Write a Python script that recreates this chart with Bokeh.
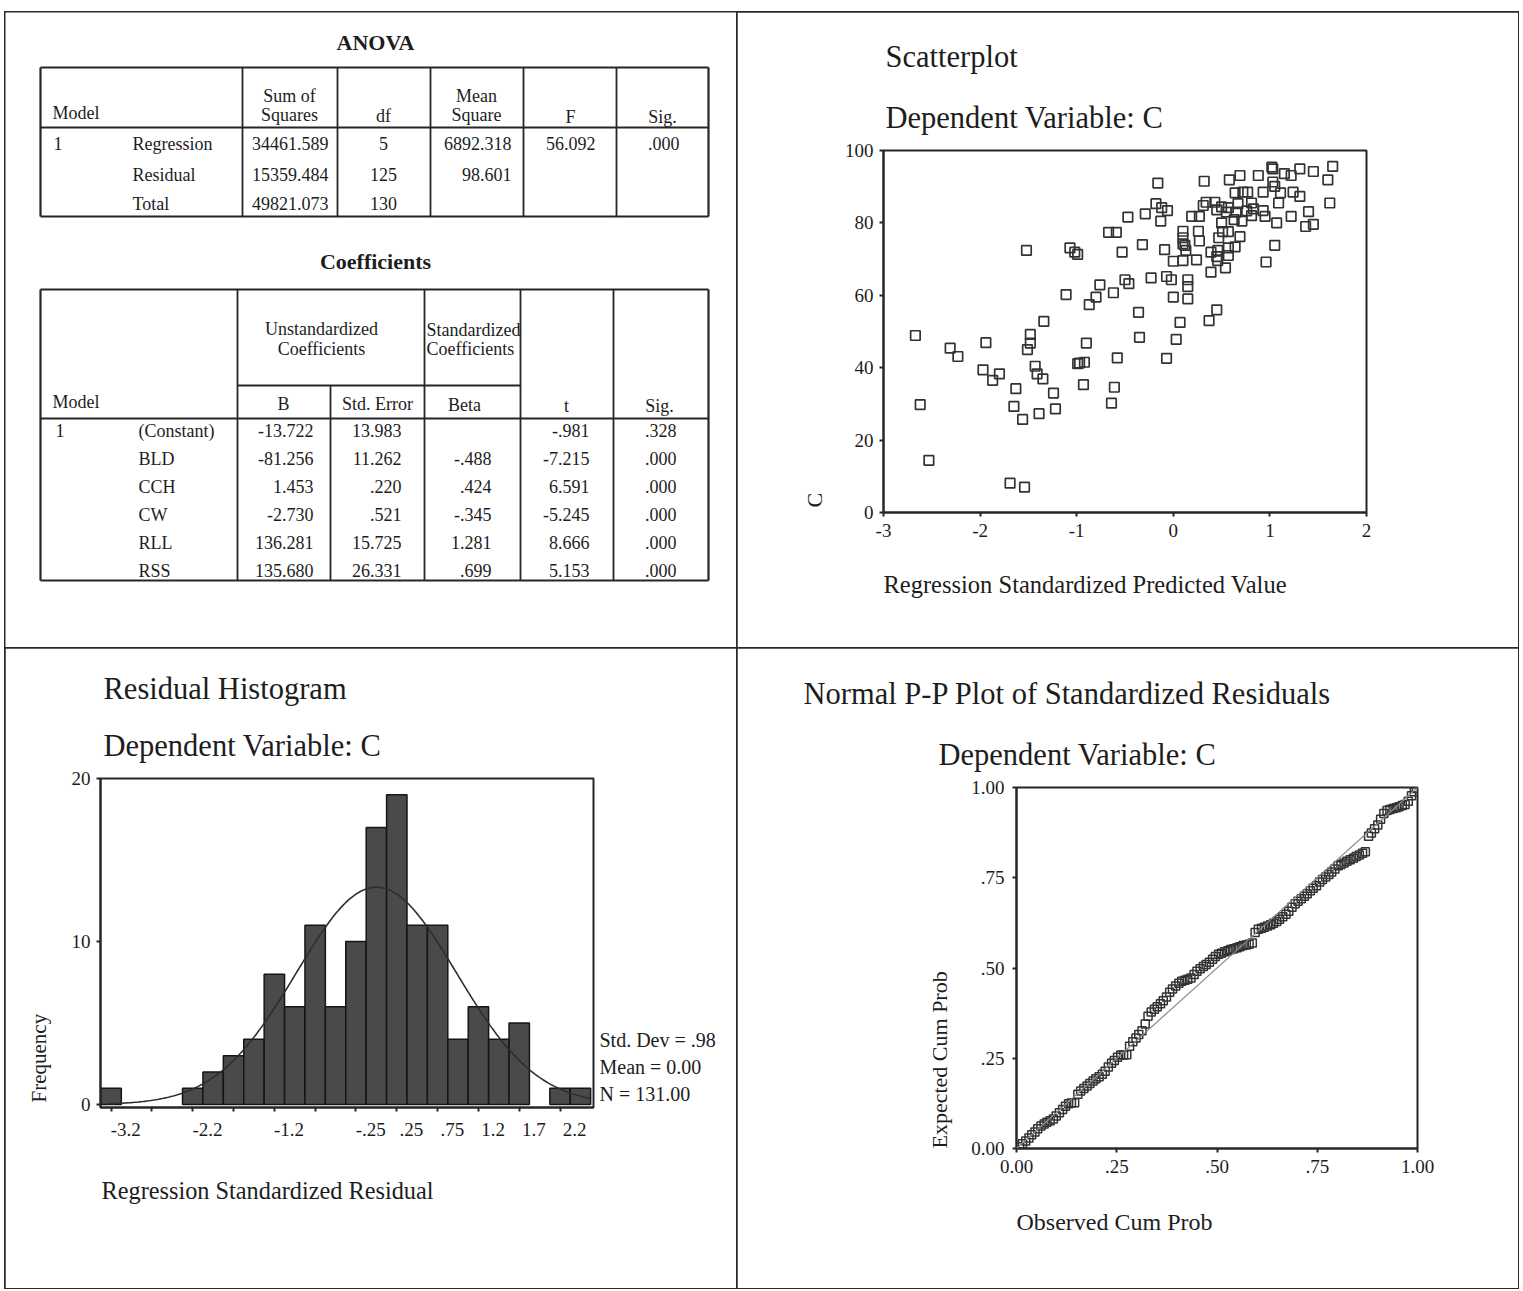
import numpy as np
from bokeh.plotting import figure
from bokeh.models import Range1d, FixedTicker, LinearAxis, Title, Slope
from bokeh.layouts import row, column
from bokeh.embed import file_html
from bokeh.resources import INLINE
from bokeh.core.properties import value

FONT = "Liberation Serif"
INK = "#1d1d1d"
LINE = "#262626"
MARK = "#333333"

# ---------------- data ----------------
anova_models = ["Regression", "Residual", "Total"]
anova_ss = ["34461.589", "15359.484", "49821.073"]
anova_df = ["5", "125", "130"]
anova_ms = ["6892.318", "98.601", ""]
anova_f = ["56.092", "", ""]
anova_sig = [".000", "", ""]

coef_terms = ["(Constant)", "BLD", "CCH", "CW", "RLL", "RSS"]
coef_b = ["-13.722", "-81.256", "1.453", "-2.730", "136.281", "135.680"]
coef_se = ["13.983", "11.262", ".220", ".521", "15.725", "26.331"]
coef_beta = ["", "-.488", ".424", "-.345", "1.281", ".699"]
coef_t = ["-.981", "-7.215", "6.591", "-5.245", "8.666", "5.153"]
coef_sig = [".328", ".000", ".000", ".000", ".000", ".000"]

scatter_x = [-2.67, -2.62, -2.53, -2.31, -2.23, -1.97, -1.94, -1.87, -1.80, -1.69,
             -1.65, -1.63, -1.56, -1.54, -1.52, -1.51, -1.48, -1.48, -1.43, -1.41,
             -1.39, -1.35, -1.34, -1.24, -1.22, -1.11, -1.07, -1.02, -0.99, -0.99,
             -0.97, -0.92, -0.93, -0.90, -0.87, -0.80, -0.76, -0.67, -0.59, -0.62,
             -0.64, -0.61, -0.58, -0.53, -0.50, -0.46, -0.47, -0.35, -0.36,
             -0.32, -0.29, -0.23, -0.18, -0.16, -0.13, -0.12, -0.09, -0.07, -0.07,
             -0.06, -0.02, 0.00, 0.00, 0.03, 0.07, 0.10, 0.10, 0.10, 0.12,
             0.13, 0.10, 0.15, 0.15, 0.15, 0.19, 0.27, 0.24, 0.26, 0.27,
             0.31, 0.34, 0.43, 0.32, 0.37, 0.39, 0.39, 0.46, 0.45, 0.45,
             0.46, 0.45, 0.47, 0.50, 0.50, 0.51, 0.54, 0.55, 0.57, 0.57,
             0.57, 0.57, 0.58, 0.63, 0.64, 0.64, 0.65, 0.67, 0.69, 0.69,
             0.71, 0.72, 0.76, 0.77, 0.81, 0.81, 0.83, 0.88, 0.93, 0.93,
             0.95, 0.96, 1.02, 1.03, 1.03, 1.05, 1.05, 1.07, 1.09, 1.11,
             1.15, 1.22, 1.22, 1.24, 1.31, 1.31, 1.37, 1.40, 1.45, 1.45,
             1.60, 1.62, 1.65]
scatter_y = [48.9, 29.8, 14.4, 45.4, 43.1, 39.4, 46.9, 36.5, 38.3, 8.1,
             29.3, 34.2, 25.7, 7.0, 72.4, 45.0, 46.8, 49.2, 40.4, 38.3,
             27.3, 36.9, 52.8, 33.0, 28.6, 60.2, 73.1, 71.9, 71.3, 41.1,
             41.3, 41.5, 35.3, 46.8, 57.4, 59.5, 62.9, 77.4, 77.4, 60.7,
             30.2, 34.6, 42.7, 71.9, 64.3, 63.2, 81.6, 48.4, 55.3,
             74.0, 82.5, 64.8, 85.3, 91.0, 80.5, 84.2, 72.6, 65.2, 42.6,
             83.4, 64.3, 59.5, 69.4, 47.8, 52.5, 77.7, 75.9, 74.2, 73.8,
             72.4, 69.6, 64.3, 62.4, 59.0, 81.8, 81.8, 69.8, 77.7, 75.0,
             84.8, 85.7, 85.7, 91.5, 53.0, 66.4, 71.9, 72.4, 83.6, 70.7,
             69.6, 56.0, 75.9, 84.4, 80.0, 77.6, 67.6, 83.0, 84.2, 77.6,
             73.1, 71.0, 91.9, 80.9, 73.4, 88.3, 83.0, 85.3, 93.1, 76.2,
             80.5, 88.5, 83.3, 88.5, 85.5, 82.0, 83.9, 93.1, 88.5, 83.4,
             81.8, 69.2, 95.4, 94.9, 91.3, 90.1, 73.8, 80.0, 85.5, 88.3,
             93.6, 93.1, 81.8, 88.5, 87.3, 94.9, 79.0, 83.1, 79.6, 94.2,
             91.9, 85.5, 95.6]
scatter_xticks = [-3, -2, -1, 0, 1, 2]
scatter_yticks = [0, 20, 40, 60, 80, 100]

hist_centers = [-3.25, -3.0, -2.75, -2.5, -2.25, -2.0, -1.75, -1.5, -1.25, -1.0, -0.75, -0.5,
                -0.25, 0.0, 0.25, 0.5, 0.75, 1.0, 1.25, 1.5, 1.75, 2.0, 2.25, 2.5]
hist_counts = [1, 0, 0, 0, 1, 2, 3, 4, 8, 6, 11, 6, 10, 17, 19, 11, 11, 4, 6, 4, 5, 0, 1, 1]
hist_bin_width = 0.25
hist_mean, hist_sd, hist_n = 0.0, 0.98, 131
hist_stats = ["Std. Dev = .98", "Mean = 0.00", "N = 131.00"]
hist_tick_marks = [-3.25, -2.75, -2.25, -1.75, -1.25, -0.75, -0.25, 0.25, 0.75, 1.25, 1.75, 2.25]
hist_tick_vals = [-3.25, -2.25, -1.25, -0.25, 0.25, 0.75, 1.25, 1.75, 2.25]
hist_tick_labels = ["-3.2", "-2.2", "-1.2", "-.25", ".25", ".75", "1.2", "1.7", "2.2"]
hist_yticks = [0, 10, 20]

pp_observed = [.008, .015, .023, .031, .038, .046, .053, .061, .069, .076,
               .084, .092, .099, .107, .115, .122, .130, .137, .145, .153,
               .160, .168, .176, .183, .191, .198, .206, .214, .221, .229,
               .237, .244, .252, .260, .267, .275, .282, .290, .298, .305,
               .313, .321, .328, .336, .344, .351, .359, .366, .374, .382,
               .389, .397, .405, .412, .420, .427, .435, .443, .450, .458,
               .466, .473, .481, .489, .496, .504, .511, .519, .527, .534,
               .542, .550, .557, .565, .573, .580, .588, .595, .603, .611,
               .618, .626, .634, .641, .649, .656, .664, .672, .679, .687,
               .695, .702, .710, .718, .725, .733, .740, .748, .756, .763,
               .771, .779, .786, .794, .802, .809, .817, .824, .832, .840,
               .847, .855, .863, .870, .878, .885, .893, .901, .908, .916,
               .924, .931, .939, .947, .954, .962, .969, .977, .985, .992, .997]
pp_expected = [.005, .013, .021, .029, .038, .046, .055, .062, .068, .073,
               .077, .082, .090, .099, .108, .117, .124, .126, .127, .150,
               .159, .166, .173, .180, .187, .193, .199, .206, .214, .226,
               .236, .244, .253, .259, .259, .260, .283, .296, .306, .316,
               .326, .345, .366, .378, .386, .393, .401, .409, .420, .433,
               .442, .450, .458, .463, .466, .469, .472, .482, .491, .498,
               .504, .510, .516, .524, .532, .538, .541, .545, .548, .551,
               .553, .556, .559, .562, .564, .566, .569, .598, .607, .610,
               .613, .616, .620, .624, .629, .635, .642, .649, .657, .668,
               .678, .685, .692, .699, .706, .714, .721, .728, .738, .745,
               .752, .759, .766, .774, .783, .787, .791, .796, .800, .804,
               .809, .813, .818, .822, .865, .874, .886, .896, .912, .928,
               .936, .939, .942, .944, .947, .950, .953, .962, .977, .988, .997]
pp_ticks = [0, 0.25, 0.5, 0.75, 1]
pp_tick_labels = ["0.00", ".25", ".50", ".75", "1.00"]

CSS_BOX = {"outline": "2px solid #2a2a2a", "outline-offset": "-1px"}
TITLE_SIZE = "30.5px"


def txt(fig, xs, ys, texts, align="left", size=18, bold=False):
    keep = [(x, y, t) for x, y, t in zip(xs, ys, texts) if t != ""]
    fig.text(x=[k[0] for k in keep], y=[k[1] for k in keep], text=[k[2] for k in keep],
             text_align=align, text_baseline="middle",
             text_font=value(FONT), text_font_size=value(f"{size}px"),
             text_font_style="bold" if bold else "normal", text_color=INK)


def seg(fig, x0, y0, x1, y1, w=1.8):
    fig.segment(x0=x0, y0=y0, x1=x1, y1=y1, line_color=LINE, line_width=w)


def style_axis(ax, size="19px", standoff=6):
    ax.axis_line_color = LINE
    ax.axis_line_width = 2
    ax.major_tick_in = 0
    ax.major_tick_out = 4
    ax.major_tick_line_width = 2
    ax.major_tick_line_color = LINE
    ax.minor_tick_line_color = None
    ax.major_label_text_font = FONT
    ax.major_label_text_font_size = size
    ax.major_label_text_color = INK
    ax.major_label_standoff = standoff


def add_title(fig, text, place, standoff, offset=0, size=TITLE_SIZE):
    fig.add_layout(Title(text=text, align="left", offset=offset, standoff=standoff,
                         text_font=FONT, text_font_size=size, text_font_style="normal",
                         text_color=INK), place)


def base_fig(**kw):
    f = figure(output_backend="svg", toolbar_location=None, **kw)
    f.background_fill_color = "white"
    f.border_fill_color = "white"
    if "frame_align" in f.properties():
        f.frame_align = False
    return f


# ---------------- top-left: tables ----------------
tl = base_fig(width=732, height=636, x_range=Range1d(5, 737), y_range=Range1d(648, 12),
              x_axis_type=None, y_axis_type=None, min_border=0)
tl.outline_line_color = None

# ANOVA
txt(tl, [375], [42], ["ANOVA"], "center", 22, True)
seg(tl, [40, 708, 40, 40], [67, 67, 67, 216], [708, 708, 40, 708], [67, 216, 216, 216], 2.2)
vx = [242, 337, 430, 523, 616]
seg(tl, vx, [67] * 5, vx, [216] * 5)
seg(tl, [40], [127], [708], [127])
txt(tl, [52], [112], ["Model"])
txt(tl, [289, 289, 383, 476, 476, 570, 662], [95, 114, 115, 95, 114, 116, 116],
    ["Sum of", "Squares", "df", "Mean", "Square", "F", "Sig."], "center")
ay = [143, 174, 203]
txt(tl, [53], [143], ["1"])
txt(tl, [132] * 3, ay, anova_models)
txt(tl, [328] * 3, ay, anova_ss, "right")
txt(tl, [383] * 3, ay, anova_df, "center")
txt(tl, [511] * 3, ay, anova_ms, "right")
txt(tl, [595] * 3, ay, anova_f, "right")
txt(tl, [679] * 3, ay, anova_sig, "right")

# Coefficients
txt(tl, [375], [261], ["Coefficients"], "center", 22, True)
seg(tl, [40, 708, 40, 40], [289, 289, 289, 580], [708, 708, 40, 708], [289, 580, 580, 580], 2.2)
cx = [237, 424, 520, 613]
seg(tl, cx, [289] * 4, cx, [580] * 4)
seg(tl, [330], [385], [330], [580])
seg(tl, [237], [385], [520], [385])
seg(tl, [40], [418], [708], [418])
txt(tl, [321, 321], [328, 348], ["Unstandardized", "Coefficients"], "center")
txt(tl, [426, 426], [329, 348], ["Standardized", "Coefficients"])
txt(tl, [52], [401], ["Model"])
txt(tl, [283, 377, 464, 566, 659], [403, 403, 404, 405, 405],
    ["B", "Std. Error", "Beta", "t", "Sig."], "center")
cy = [430, 458, 486, 514, 542, 570]
txt(tl, [55], [430], ["1"])
txt(tl, [138] * 6, cy, coef_terms)
txt(tl, [313] * 6, cy, coef_b, "right")
txt(tl, [401] * 6, cy, coef_se, "right")
txt(tl, [491] * 6, cy, coef_beta, "right")
txt(tl, [589] * 6, cy, coef_t, "right")
txt(tl, [676] * 6, cy, coef_sig, "right")

# ---------------- top-right: scatterplot ----------------
sc = base_fig(width=781, height=636, x_range=Range1d(-3, 2), y_range=Range1d(0, 100),
              min_border_left=146, min_border_right=152, min_border_top=138, min_border_bottom=136)
sc.grid.visible = False
sc.outline_line_color = LINE
sc.outline_line_width = 2
sc.scatter(scatter_x, scatter_y, marker="square", size=9.5, fill_color=None,
           line_color=MARK, line_width=1.7)
sc.xaxis.ticker = FixedTicker(ticks=scatter_xticks)
sc.xaxis.major_label_overrides = {t: str(t) for t in scatter_xticks}
sc.yaxis.ticker = FixedTicker(ticks=scatter_yticks)
style_axis(sc.xaxis[0], "19px", 7)
style_axis(sc.yaxis[0], "19px", 6)
add_title(sc, "Dependent Variable: C", "above", 31, 2)
add_title(sc, "Scatterplot", "above", 19, 2)
add_title(sc, "Regression Standardized Predicted Value", "below", 58, 0, "24.5px")
add_title(sc, "C", "left", 29, 5, "22px")

# ---------------- bottom-left: histogram ----------------
hist = base_fig(width=732, height=640, x_range=Range1d(-3.38, 2.66), y_range=Range1d(-0.18, 20),
                min_border_left=95, min_border_right=144, min_border_top=130, min_border_bottom=181)
hist.grid.visible = False
hist.outline_line_color = LINE
hist.outline_line_width = 2
bx = [c for c, n in zip(hist_centers, hist_counts) if n > 0]
bt = [n for n in hist_counts if n > 0]
hist.vbar(x=bx, top=bt, bottom=0, width=hist_bin_width, fill_color="#4a4a4a",
          line_color="#151515", line_width=1.5)
cxs = np.linspace(-3.3, 2.62, 300)
peak = hist_n * hist_bin_width / (hist_sd * np.sqrt(2 * np.pi))
hist.line(cxs, peak * np.exp(-0.5 * ((cxs - hist_mean) / hist_sd) ** 2),
          line_color="#2e2e2e", line_width=1.6)
# tick marks at every other bin centre (labels drawn by the shifted axis below)
hist.xaxis.ticker = FixedTicker(ticks=hist_tick_marks)
style_axis(hist.xaxis[0], "1px", 0)
hist.xaxis.major_label_text_color = None
hist.yaxis.ticker = FixedTicker(ticks=hist_yticks)
style_axis(hist.yaxis[0], "19px", 6)
hist.extra_x_ranges = {"lab": Range1d(-3.38 - 0.18, 2.66 - 0.18)}
lab_ax = LinearAxis(x_range_name="lab", ticker=FixedTicker(ticks=hist_tick_vals),
                    major_label_overrides=dict(zip(hist_tick_vals, hist_tick_labels)))
style_axis(lab_ax, "19px", 7)
lab_ax.axis_line_color = None
lab_ax.major_tick_line_color = None
hist.add_layout(lab_ax, "below")
# summary statistics, placed beside the frame on the right
stat_pos = [3.99, 2.33, 0.67]
stat_ax = LinearAxis(ticker=FixedTicker(ticks=stat_pos),
                     major_label_overrides=dict(zip(stat_pos, hist_stats)))
style_axis(stat_ax, "20px", 6)
stat_ax.major_tick_out = 0
stat_ax.axis_line_color = None
stat_ax.major_tick_line_color = None
hist.add_layout(stat_ax, "right")
add_title(hist, "Dependent Variable: C", "above", 32, 3)
add_title(hist, "Residual Histogram", "above", 9, 3)
add_title(hist, "Regression Standardized Residual", "below", 72, 1, "24.3px")
add_title(hist, "Frequency", "left", 36, 5, "21px")

# ---------------- bottom-right: P-P plot ----------------
pp = base_fig(width=781, height=640, x_range=Range1d(0, 1), y_range=Range1d(0, 1),
              min_border_left=279, min_border_right=101, min_border_top=139, min_border_bottom=140)
pp.grid.visible = False
pp.outline_line_color = LINE
pp.outline_line_width = 2
pp.add_layout(Slope(gradient=1, y_intercept=0, line_color="#8a8a8a", line_width=1.2))
pp.scatter(pp_observed, pp_expected, marker="square", size=8, fill_color=None,
           line_color=MARK, line_width=1.5)
for ax in (pp.xaxis[0], pp.yaxis[0]):
    ax.ticker = FixedTicker(ticks=pp_ticks)
    ax.major_label_overrides = dict(zip(pp_ticks, pp_tick_labels))
style_axis(pp.xaxis[0], "19px", 7)
style_axis(pp.yaxis[0], "19px", 8)
add_title(pp, "Dependent Variable: C", "above", 31, -78)
add_title(pp, "Normal P-P Plot of Standardized Residuals", "above", 19, -213)
add_title(pp, "Observed Cum Prob", "below", 62, 0, "24px")
add_title(pp, "Expected Cum Prob", "left", 33, 0, "22px")

for f in (tl, sc, hist, pp):
    f.styles = CSS_BOX

layout = column(row(tl, sc), row(hist, pp), margin=(12, 0, 0, 5))

with open("out.html", "w", encoding="utf-8") as fh:
    fh.write(file_html(layout, INLINE))
